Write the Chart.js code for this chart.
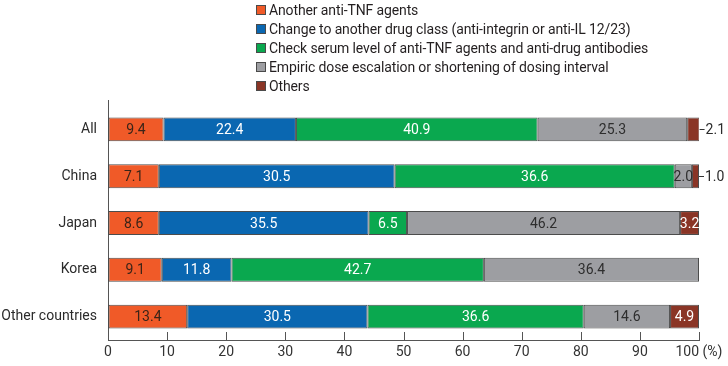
<!DOCTYPE html>
<html>
<head>
<meta charset="utf-8">
<script src="https://cdn.jsdelivr.net/npm/chart.js@4/dist/chart.umd.min.js"></script>
<style>
    html, body { margin: 0; padding: 0; background: #fff; }
    #wrap { position: relative; width: 728px; height: 366px; }
    #legend { position: absolute; left: 256px; top: 1px; font: 14px Roboto, sans-serif; color: #231f20; letter-spacing: -0.12px; }
    #legend div { height: 19px; line-height: 19px; white-space: nowrap; }
    #legend span { display: inline-block; width: 8px; height: 8px; border: 1px solid #4a4a4a; margin-right: 3px; vertical-align: 0; }
</style>
</head>
<body>
<div id="wrap">
    <canvas id="chart" width="728" height="366"></canvas>
    <div id="legend"></div>
</div>
<script>
// ── Data ──────────────────────────────────────────────────────────────────
const categories = ['All', 'China', 'Japan', 'Korea', 'Other countries'];

const seriesNames = [
    'Another anti-TNF agents',
    'Change to another drug class (anti-integrin or anti-IL 12/23)',
    'Check serum level of anti-TNF agents and anti-drug antibodies',
    'Empiric dose escalation or shortening of dosing interval',
    'Others',
];

// bar lengths (%), as drawn
const anotherAntiTnf = [9.4, 8.6, 8.6, 9.1, 13.4];
const changeClass = [22.4, 39.9, 35.5, 11.8, 30.5];
const checkSerum = [40.9, 47.4, 6.5, 42.7, 36.6];
const empiricDose = [25.3, 2.9, 46.2, 36.4, 14.6];
const others = [2.1, 1.2, 3.2, 0, 4.9];

// numbers printed on the bars (the China row is printed with other figures than its bar lengths)
const anotherAntiTnfText = [9.4, 7.1, 8.6, 9.1, 13.4];
const changeClassText = [22.4, 30.5, 35.5, 11.8, 30.5];
const checkSerumText = [40.9, 36.6, 6.5, 42.7, 36.6];
const empiricDoseText = [25.3, 2.0, 46.2, 36.4, 14.6];
const othersText = [2.1, 1.0, 3.2, null, 4.9];

const xTicks = [0, 10, 20, 30, 40, 50, 60, 70, 80, 90, 100];

const FONT = 'Roboto, sans-serif';
const border = 'rgba(45,45,45,.85)';

function segment(label, data, printed, fill, textColor) {
    return {
        label, data, printed, textColor,
        backgroundColor: fill,
        borderColor: border,
        borderWidth: 1,
        borderSkipped: false,
        barPercentage: 0.51,
        categoryPercentage: 1,
    };
}

// ── Value labels inside the bars, small ones outside with a leader line ──
const valueLabels = {
    id: 'valueLabels',
    afterDatasetsDraw(chart) {
        const ctx = chart.ctx;
        const last = chart.data.datasets.length - 1;
        ctx.save();
        ctx.font = '14px ' + FONT;
        ctx.textBaseline = 'middle';
        chart.data.datasets.forEach((ds, di) => {
            chart.getDatasetMeta(di).data.forEach((bar, i) => {
                const v = ds.printed[i];
                if (v === null || v === undefined) return;
                const s = v.toFixed(1);
                const w = ctx.measureText(s).width;
                const segW = bar.x - bar.base;
                if (di === last && segW < w - 4) {
                    ctx.strokeStyle = '#333';
                    ctx.lineWidth = 1;
                    ctx.beginPath();
                    ctx.moveTo(bar.x, Math.round(bar.y) + 0.5);
                    ctx.lineTo(bar.x + 5, Math.round(bar.y) + 0.5);
                    ctx.stroke();
                    ctx.fillStyle = '#2b2b2b';
                    ctx.textAlign = 'left';
                    ctx.fillText(s, bar.x + 6, bar.y + 1);
                } else {
                    ctx.fillStyle = ds.textColor;
                    ctx.textAlign = 'center';
                    ctx.fillText(s, (bar.x + bar.base) / 2, bar.y + 1);
                }
            });
        });
        ctx.restore();
    },
};

// ── Tick marks pointing into the plot, y axis line a bit above the area ──
const innerTicks = {
    id: 'innerTicks',
    afterDraw(chart) {
        const x = chart.scales.x;
        const area = chart.chartArea;
        const ctx = chart.ctx;
        ctx.save();
        ctx.strokeStyle = '#555';
        ctx.lineWidth = 1;
        ctx.beginPath();
        x.ticks.forEach((t) => {
            if (t.value === 0) return;
            const px = Math.round(x.getPixelForValue(t.value)) + 0.5;
            ctx.moveTo(px, area.bottom);
            ctx.lineTo(px, area.bottom - 8);
        });
        ctx.moveTo(area.left + 0.5, area.top);
        ctx.lineTo(area.left + 0.5, area.top - 6);
        ctx.stroke();
        ctx.restore();
    },
};

const chart = new Chart(document.getElementById('chart'), {
    type: 'bar',
    data: {
        labels: categories,
        datasets: [
            segment(seriesNames[0], anotherAntiTnf, anotherAntiTnfText, '#f05a28', '#3b2418'),
            segment(seriesNames[1], changeClass, changeClassText, '#0a67b1', '#ffffff'),
            segment(seriesNames[2], checkSerum, checkSerumText, '#0aa84f', '#ffffff'),
            segment(seriesNames[3], empiricDose, empiricDoseText, '#9d9ea2', '#2e2e2e'),
            segment(seriesNames[4], others, othersText, '#8a3526', '#ffffff'),
        ],
    },
    options: {
        indexAxis: 'y',
        responsive: false,
        animation: false,
        devicePixelRatio: 1,
        layout: { padding: { top: 106, right: 29, left: 0, bottom: 0 } },
        plugins: {
            legend: { display: false },
            tooltip: { enabled: false },
        },
        scales: {
            x: {
                stacked: true,
                min: 0,
                max: 100,
                afterBuildTicks: (scale) => { scale.ticks = xTicks.map((v) => ({ value: v })); },
                afterFit: (scale) => { scale.height = 26; },
                ticks: {
                    font: { family: FONT, size: 14 },
                    color: '#333',
                    padding: 4,
                    maxRotation: 0,
                    callback: (v) => (v === 100 ? '100 (%)' : v),
                },
                grid: { drawOnChartArea: false, drawTicks: false },
                border: { display: true, color: '#555', width: 1 },
            },
            y: {
                stacked: true,
                afterFit: (scale) => { scale.width = 108; },
                ticks: {
                    font: { family: FONT, size: 14 },
                    color: '#2b2b2b',
                    padding: 11,
                },
                grid: { drawOnChartArea: false, drawTicks: false },
                border: { display: true, color: '#555', width: 1 },
            },
        },
    },
    plugins: [valueLabels, innerTicks],
});

// ── HTML legend, one entry per line ──
document.getElementById('legend').innerHTML = chart.data.datasets
    .map((ds) => `<div><span style="background:${ds.backgroundColor}"></span>${ds.label}</div>`)
    .join('');
</script>
</body>
</html>
